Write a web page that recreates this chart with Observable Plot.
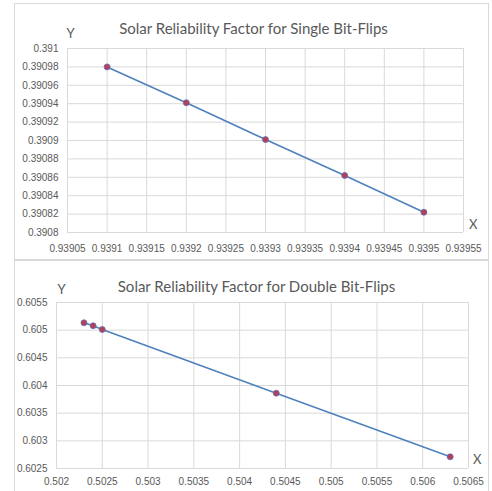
<!DOCTYPE html>
<html><head><meta charset="utf-8">
<script src="https://cdn.jsdelivr.net/npm/d3@7"></script>
<script src="https://cdn.jsdelivr.net/npm/@observablehq/plot@0.6"></script>
<style>
body{margin:0;background:#fff;}
#frame{position:absolute;left:14px;top:3px;width:475px;height:500px;border:1px solid #d9d9d9;box-sizing:border-box;}
#p1{position:absolute;left:15px;top:4px;}
#sep{position:absolute;left:15px;top:259px;width:474px;height:2px;background:#d9d9d9;}
#p2{position:absolute;left:15px;top:261px;}
svg text{fill:#595959;}
</style></head><body>
<div id="frame"></div><div id="p1"></div><div id="sep"></div><div id="p2"></div>
<script>
const title1 = "Solar Reliability Factor for Single Bit-Flips";
const singleX = [0.9391, 0.9392, 0.9393, 0.9394, 0.9395];
const singleY = [0.39098, 0.390941, 0.390901, 0.390862, 0.390822];
const xTicks1 = [0.93905, 0.9391, 0.93915, 0.9392, 0.93925, 0.9393, 0.93935, 0.9394, 0.93945, 0.9395, 0.93955];
const yTicks1 = [0.3908, 0.39082, 0.39084, 0.39086, 0.39088, 0.3909, 0.39092, 0.39094, 0.39096, 0.39098, 0.391];

const title2 = "Solar Reliability Factor for Double Bit-Flips";
const doubleX = [0.5023, 0.5024, 0.5025, 0.5044, 0.5063];
const doubleY = [0.605133, 0.605079, 0.605012, 0.603862, 0.602711];
const xTicks2 = [0.502, 0.5025, 0.503, 0.5035, 0.504, 0.5045, 0.505, 0.5055, 0.506, 0.5065];
const yTicks2 = [0.6025, 0.603, 0.6035, 0.604, 0.6045, 0.605, 0.6055];

const fmt = d => String(+d.toFixed(6));
const lineColor = "#4f81bd", dotFill = "#b0415a", gridColor = "#d9d9d9";

function chart(o) {
  const data = o.xs.map((x, i) => ({x, y: o.ys[i]}));
  return Plot.plot({
    width: 474, height: o.height,
    marginLeft: o.ml, marginRight: o.mr, marginTop: o.mt, marginBottom: o.mb,
    style: {fontFamily: "Liberation Sans, Arial, sans-serif", fontSize: "10px", color: "#595959", background: "transparent"},
    x: {domain: [o.xt[0], o.xt[o.xt.length - 1]], ticks: o.xt, tickFormat: fmt, tickSize: 0, tickPadding: o.xpad, label: null},
    y: {domain: [o.yt[0], o.yt[o.yt.length - 1]], ticks: o.yt, tickFormat: fmt, tickSize: 0, tickPadding: o.ypad, label: null},
    marks: [
      Plot.gridX(o.xt, {stroke: gridColor, strokeOpacity: 1}),
      Plot.gridY(o.yt, {stroke: gridColor, strokeOpacity: 1}),
      Plot.axisX(o.xt, {tickSize: 0, tickPadding: o.xpad, tickFormat: fmt}),
      Plot.axisY(o.yt, {tickSize: 0, tickPadding: o.ypad, tickFormat: fmt}),
      Plot.line(data, {x: "x", y: "y", stroke: lineColor, strokeWidth: 1.6}),
      Plot.dot(data, {x: "x", y: "y", r: 3, fill: dotFill, stroke: "#6a6fae", strokeWidth: 0.8}),
      Plot.text([o.title], {frameAnchor: "top", dy: o.titleDy, dx: o.titleDx, fontSize: 15, fontFamily: "Lato, sans-serif", fill: "#595959"}),
      Plot.text(["Y"], {frameAnchor: "top-left", dy: o.yDy, dx: o.yDx, fontSize: 13, fontFamily: "Lato, sans-serif", fill: "#404040"}),
      Plot.text(["X"], {frameAnchor: "bottom-right", dy: o.xDy, dx: o.xDx, fontSize: 13, fontFamily: "Lato, sans-serif", fill: "#404040"})
    ]
  });
}

document.getElementById("p1").append(chart({
  title: title1, xs: singleX, ys: singleY, xt: xTicks1, yt: yTicks1,
  height: 255, ml: 52, mr: 26, mt: 44, mb: 27, xpad: 12, ypad: 9,
  titleDy: -25, titleDx: -12, yDy: -20, yDx: -1, xDy: -4, xDx: 14
}));
document.getElementById("p2").append(chart({
  title: title2, xs: doubleX, ys: doubleY, xt: xTicks2, yt: yTicks2,
  height: 230, ml: 41, mr: 21, mt: 41, mb: 23, xpad: 9, ypad: 9,
  titleDy: -21, titleDx: -6, yDy: -18, yDx: 1, xDy: -5, xDx: 13
}));
</script></body></html>
